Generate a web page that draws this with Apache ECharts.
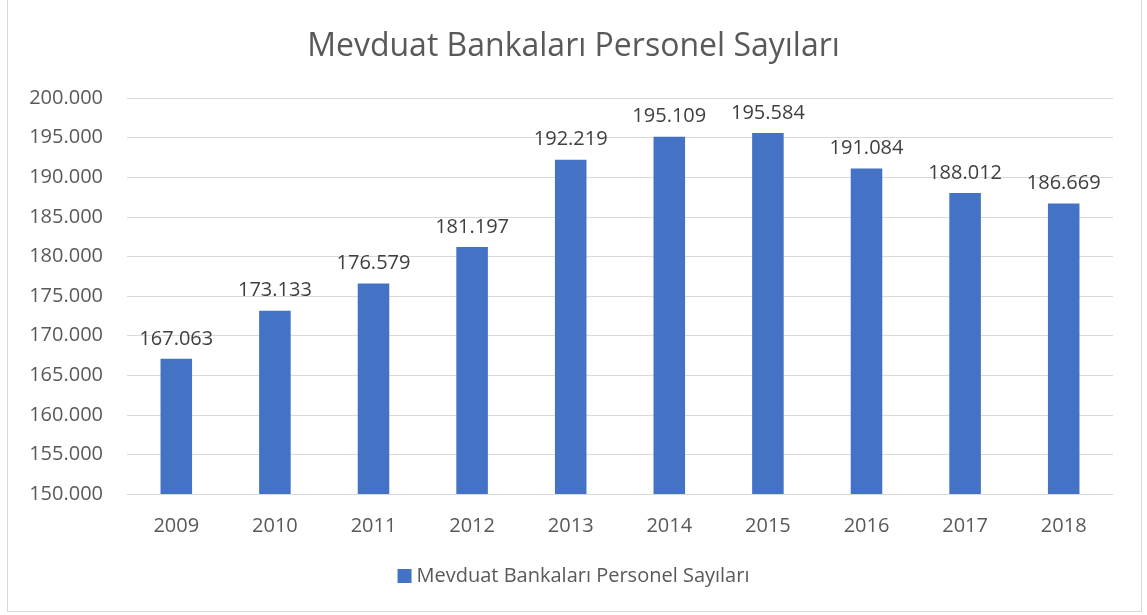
<!DOCTYPE html>
<html>
<head>
<meta charset="utf-8">
<script src="https://cdn.jsdelivr.net/npm/echarts@6/dist/echarts.min.js"></script>
<style>
  html, body { margin: 0; padding: 0; background: #fff; }
  #frame {
    position: absolute; left: 7px; top: 0px;
    width: 1133px; height: 611px;
    border: 1px solid #d9d9d9; border-top: none;
  }
  #chart { position: absolute; left: 0; top: 0; width: 1147px; height: 615px; }
</style>
</head>
<body>
<div id="frame"></div>
<div id="chart"></div>
<script>
// veriler
const years = ['2009', '2010', '2011', '2012', '2013', '2014', '2015', '2016', '2017', '2018']
const personel = [167063, 173133, 176579, 181197, 192219, 195109, 195584, 191084, 188012, 186669]
const seriesName = 'Mevduat Bankaları Personel Sayıları'

// binlik ayraç nokta
function fmt(v) {
  return String(v).replace(/\B(?=(\d{3})+(?!\d))/g, '.')
}

const font = 'Open Sans, Liberation Sans, sans-serif'
let mycharts = echarts.init(document.getElementById('chart'))
mycharts.setOption({
  animation: false,
  title: {
    text: 'Mevduat Bankaları Personel Sayıları',
    left: 'center',
    top: 26,
    textStyle: { fontFamily: font, fontSize: 32, fontWeight: 'normal', color: '#595959' },
  },
  legend: {
    bottom: 24,
    left: 'center',
    icon: 'rect',
    itemWidth: 14,
    itemHeight: 14,
    itemGap: 6,
    textStyle: { fontFamily: font, fontSize: 20, color: '#595959' },
    data: [seriesName],
  },
  grid: { left: 127, right: 34, top: 98, bottom: 121 },
  xAxis: {
    type: 'category',
    data: years,
    axisLine: { show: true, lineStyle: { color: '#d9d9d9', width: 1 } },
    axisTick: { show: false },
    axisLabel: { fontFamily: font, fontSize: 20, color: '#595959', margin: 22 },
  },
  yAxis: {
    type: 'value',
    min: 150000,
    max: 200000,
    interval: 5000,
    axisLine: { show: false },
    axisTick: { show: false },
    splitLine: { lineStyle: { color: '#d9d9d9', width: 1 } },
    axisLabel: { fontFamily: font, fontSize: 20, color: '#595959', margin: 24, formatter: fmt },
  },
  series: [
    {
      name: seriesName,
      type: 'bar',
      data: personel,
      barWidth: '32%',
      itemStyle: { color: '#4472c4' },
      label: {
        show: true,
        position: 'top',
        distance: 10,
        fontFamily: font,
        fontSize: 20,
        color: '#404040',
        formatter: p => fmt(p.value),
      },
    },
  ],
})
</script>
</body>
</html>
